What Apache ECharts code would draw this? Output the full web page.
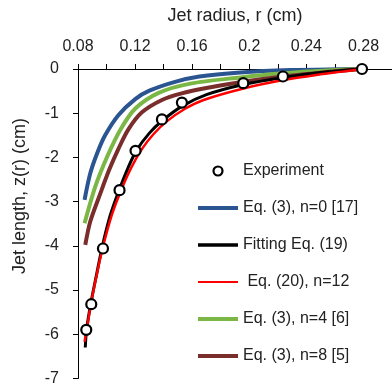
<!DOCTYPE html>
<html>
<head>
<meta charset="utf-8">
<script src="https://cdn.jsdelivr.net/npm/echarts@6/dist/echarts.min.js"></script>
<style>html,body{margin:0;padding:0;background:#fff}#c{width:392px;height:387px}</style>
</head>
<body>
<div id="c"></div>
<script>
// Experimental points [radius r (cm), jet length z (cm)]
var experiment = [[0.279,0],[0.2236,-0.17],[0.1958,-0.32],[0.1528,-0.76],[0.1388,-1.14],[0.1203,-1.85],[0.1091,-2.74],[0.0975,-4.06],[0.0893,-5.32],[0.0858,-5.90]];
// Eq. (3), n=0 [17]
var eq3n0 = [[0.0846,-2.96],[0.0886,-2.36],[0.0935,-1.90],[0.0990,-1.50],[0.1084,-1.04],[0.1201,-0.68],[0.1300,-0.49],[0.1480,-0.29],[0.1650,-0.17],[0.1937,-0.08],[0.2287,-0.025],[0.2637,-0.005],[0.279,0]];
// Fitting Eq. (19)
var fit19 = [[0.0851,-6.30],[0.0860,-5.90],[0.0890,-5.30],[0.0930,-4.65],[0.0970,-4.02],[0.1025,-3.32],[0.1088,-2.74],[0.1150,-2.24],[0.1210,-1.84],[0.1300,-1.45],[0.1390,-1.17],[0.1530,-0.84],[0.1700,-0.58],[0.1960,-0.35],[0.2240,-0.19],[0.2500,-0.08],[0.279,0]];
// Eq. (20), n=12
var eq20n12 = [[0.0846,-6.17],[0.0865,-5.82],[0.0892,-5.28],[0.0932,-4.64],[0.0975,-4.02],[0.1035,-3.32],[0.1105,-2.72],[0.1175,-2.22],[0.1250,-1.80],[0.1330,-1.47],[0.1420,-1.19],[0.1550,-0.90],[0.1680,-0.70],[0.1960,-0.44],[0.2240,-0.25],[0.2500,-0.12],[0.2637,-0.065],[0.279,0]];
// Eq. (3), n=4 [6]
var eq3n4 = [[0.0846,-3.49],[0.0921,-2.66],[0.1005,-1.98],[0.1096,-1.38],[0.1200,-0.90],[0.1365,-0.54],[0.1587,-0.33],[0.1937,-0.19],[0.2236,-0.095],[0.2637,-0.015],[0.279,0]];
// Eq. (3), n=8 [5]
var eq3n8 = [[0.0851,-3.98],[0.0886,-3.45],[0.0956,-2.82],[0.1020,-2.27],[0.1084,-1.80],[0.1154,-1.36],[0.1248,-0.98],[0.1388,-0.70],[0.1526,-0.55],[0.1680,-0.44],[0.1937,-0.30],[0.2236,-0.17],[0.2637,-0.04],[0.279,0]];

var names = ['Experiment','Eq. (3), n=0 [17]','Fitting Eq. (19)',' Eq. (20), n=12','Eq. (3), n=4 [6]','Eq. (3), n=8 [5]'];
var xTitle = 'Jet radius, r (cm)';
var yTitle = 'Jet length, z(r) (cm)';

var FONT = '"Liberation Sans", Arial, sans-serif';
var chart = echarts.init(document.getElementById('c'), null, {renderer:'canvas'});

function lineSeries(name, data, color, width, z) {
  return {name:name, type:'line', data:data, smooth:0.3, symbol:'none', showSymbol:false,
    lineStyle:{color:color, width:width}, itemStyle:{color:color}, z:z, clip:false, animation:false};
}
// legend bar icons (zero-area sub-paths keep the full 9px box so the bar keeps its thickness)
function barIcon(t) {
  var y0 = (9 - t) / 2;
  return 'path://M0,0L40,0L40,0Z M0,' + y0 + 'L40,' + y0 + 'L40,' + (y0 + t) + 'L0,' + (y0 + t) + 'Z M0,9L40,9L40,9Z';
}

chart.setOption({
  animation:false,
  textStyle:{fontFamily:FONT},
  grid:{left:78, right:0, top:69, bottom:8.5, containLabel:false},
  xAxis:{type:'value', position:'top', min:0.08, max:0.30, interval:0.04,
    name:xTitle, nameLocation:'middle', nameGap:44,
    nameTextStyle:{fontSize:18, color:'#222', fontFamily:FONT},
    axisLine:{show:true, onZero:false, lineStyle:{color:'#000', width:1}},
    axisTick:{show:true, inside:false, length:5, lineStyle:{color:'#000'}},
    minorTick:{show:true, splitNumber:2, length:5, lineStyle:{color:'#000'}},
    axisLabel:{margin:14, fontSize:16, color:'#222', showMaxLabel:false, fontFamily:FONT},
    splitLine:{show:false}
  },
  yAxis:{type:'value', min:-7, max:0, interval:1,
    axisLine:{show:true, onZero:false, lineStyle:{color:'#000', width:1}},
    axisTick:{show:true, length:5, lineStyle:{color:'#000'}},
    axisLabel:{margin:19, fontSize:16, color:'#222', fontFamily:FONT},
    splitLine:{show:false}
  },
  legend:{orient:'vertical', left:193, top:157, itemWidth:40, itemHeight:9, itemGap:19,
    textStyle:{fontSize:16, color:'#222', lineHeight:18, fontFamily:FONT},
    data:[
      {name:names[0], icon:'circle', itemStyle:{color:'#fff', borderColor:'#000', borderWidth:2.2, opacity:1}},
      {name:names[1], icon:barIcon(4)},
      {name:names[2], icon:barIcon(3.5)},
      {name:names[3], icon:barIcon(2)},
      {name:names[4], icon:barIcon(4)},
      {name:names[5], icon:barIcon(4)}
    ]
  },
  graphic:[{type:'text', x:20, y:196, rotation:Math.PI/2,
    style:{text:yTitle, fontSize:18, fill:'#222', fontFamily:FONT, align:'center', verticalAlign:'middle'}}],
  series:[
    lineSeries(names[1], eq3n0, '#2B5591', 4, 2),
    lineSeries(names[4], eq3n4, '#7AB744', 4, 2),
    lineSeries(names[5], eq3n8, '#7A2E2C', 4, 2),
    lineSeries(names[2], fit19, '#000000', 3, 3),
    lineSeries(names[3], eq20n12, '#FF0000', 2.5, 4),
    {name:names[0], type:'scatter', data:experiment, symbol:'circle', symbolSize:10,
     itemStyle:{color:'#fff', borderColor:'#000', borderWidth:2.2, opacity:1}, z:5, clip:false, animation:false}
  ]
});
</script>
</body>
</html>
